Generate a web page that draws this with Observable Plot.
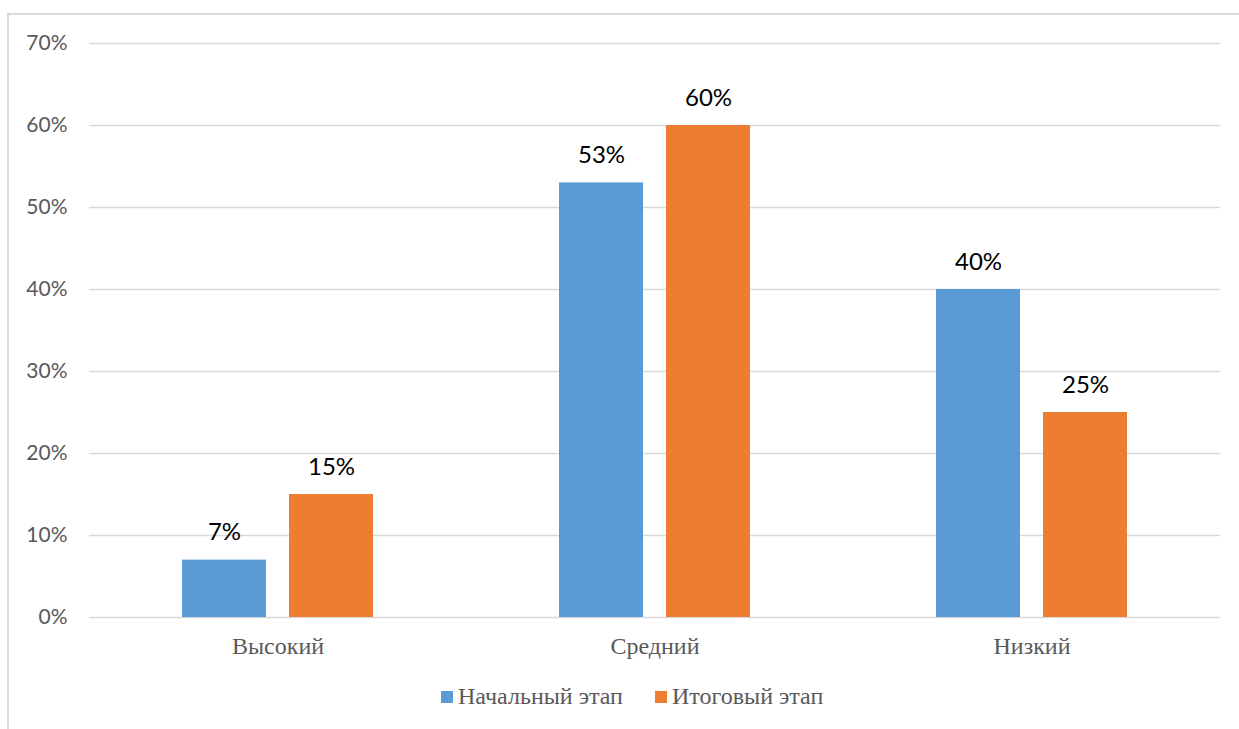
<!DOCTYPE html>
<html>
<head>
<meta charset="utf-8">
<script src="https://cdn.jsdelivr.net/npm/d3@7"></script>
<script src="https://cdn.jsdelivr.net/npm/@observablehq/plot@0.6"></script>
<style>
  html, body { margin: 0; padding: 0; background: #fff; overflow: hidden; }
  #frame { position: absolute; left: 7px; top: 13px; width: 1260px; height: 760px;
           border-left: 2px solid #d9d9d9; border-top: 2px solid #d9d9d9; box-sizing: border-box; }
  #chart { position: absolute; left: 0; top: 0; }
  #legend { position: absolute; left: 441px; top: 683px; display: flex; align-items: center;
            font-family: "Liberation Serif", "Times New Roman", serif; font-size: 24px; color: #595959; }
  .item { display: flex; align-items: center; margin-right: 32px; }
  .sw { width: 12px; height: 12px; margin-right: 5px; }
</style>
</head>
<body>
<div id="frame"></div>
<div id="chart"></div>
<div id="legend"></div>
<script>
const categories = ["Высокий", "Средний", "Низкий"];
const seriesNames = ["Начальный этап", "Итоговый этап"];
const initialValues = [7, 53, 40];
const finalValues = [15, 60, 25];
const yTicks = [0, 10, 20, 30, 40, 50, 60, 70];
const colors = ["#5B9BD5", "#ED7D31"];

const data = [];
categories.forEach((c, i) => {
  data.push({cat: c, series: seriesNames[0], value: initialValues[i]});
  data.push({cat: c, series: seriesNames[1], value: finalValues[i]});
});

const chart = Plot.plot({
  width: 1239,
  height: 670,
  marginLeft: 88,
  marginRight: 19,
  marginTop: 43,
  marginBottom: 53,
  style: {fontFamily: "Lato, 'Open Sans', sans-serif", fontSize: "21px", color: "#595959", background: "transparent"},
  fx: {domain: categories, padding: 0, label: null},
  x: {domain: seriesNames, paddingInner: 0.213, paddingOuter: 0.853, axis: null},
  y: {domain: [0, 70], label: null},
  color: {domain: seriesNames, range: colors},
  marks: [
    Plot.gridY({ticks: yTicks, stroke: "#d9d9d9", strokeOpacity: 1, strokeWidth: 1.5}),
    Plot.barY(data, {fx: "cat", x: "series", y: "value", fill: "series"}),
    Plot.text(data, {fx: "cat", x: "series", y: "value", text: d => d.value + "%",
      lineAnchor: "bottom", dy: -20, fill: "#000", fontSize: 24,
      fontFamily: "Lato, 'Open Sans', sans-serif"}),
    Plot.axisY({ticks: yTicks, tickFormat: d => d + "%", tickSize: 0, tickPadding: 22,
      fontSize: 21, fill: "#595959"}),
    Plot.axisFx({anchor: "bottom", tickSize: 0, tickPadding: 19, label: null,
      fontFamily: "'Liberation Serif', 'Times New Roman', serif", fontSize: 24, fill: "#595959"})
  ]
});
document.getElementById("chart").appendChild(chart);

const legend = document.getElementById("legend");
seriesNames.forEach((s, i) => {
  const it = document.createElement("div");
  it.className = "item";
  const sw = document.createElement("div");
  sw.className = "sw";
  sw.style.background = colors[i];
  const t = document.createElement("span");
  t.textContent = s;
  it.appendChild(sw);
  it.appendChild(t);
  legend.appendChild(it);
});
</script>
</body>
</html>
